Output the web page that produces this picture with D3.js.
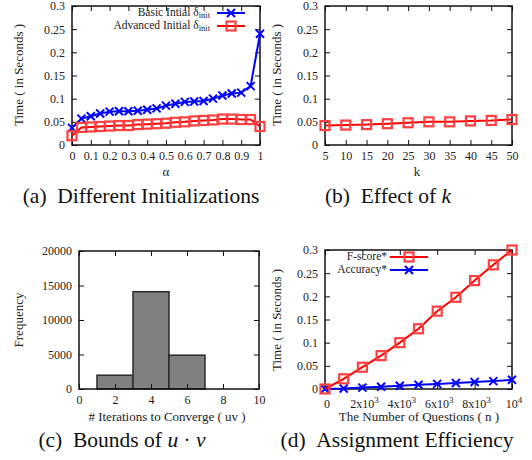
<!DOCTYPE html>
<html>
<head>
<meta charset="utf-8">
<script src="https://cdn.jsdelivr.net/npm/d3@7"></script>
<style>
  body { margin: 0; background: #fff; }
  svg text { font-family: "Liberation Serif", "Times New Roman", Times, "DejaVu Serif", serif !important; fill: #222; }
</style>
</head>
<body>
<div id="cnt"></div>
<script>
// datos (a)
let alphas = [0,0.05,0.1,0.15,0.2,0.25,0.3,0.35,0.4,0.45,0.5,0.55,0.6,0.65,0.7,0.75,0.8,0.85,0.9,0.95,1];
let basicInit = [0.037,0.057,0.062,0.068,0.072,0.073,0.073,0.074,0.076,0.079,0.085,0.089,0.093,0.094,0.095,0.1,0.107,0.111,0.113,0.127,0.24];
let advInit = [0.02,0.038,0.039,0.040,0.041,0.042,0.042,0.044,0.045,0.046,0.047,0.049,0.050,0.052,0.053,0.054,0.056,0.056,0.055,0.055,0.04];
let alphaTicks = [0,0.1,0.2,0.3,0.4,0.5,0.6,0.7,0.8,0.9,1];
let timeTicks = [0,0.05,0.1,0.15,0.2,0.25,0.3];

// datos (b)
let ks = [5,10,15,20,25,30,35,40,45,50];
let kTime = [0.042,0.043,0.044,0.046,0.048,0.050,0.050,0.052,0.053,0.055];

// datos (c) histograma
let binStart = [1,3,5];
let binEnd = [3,5,7];
let freq = [2000,14100,4900];
let iterTicks = [0,2,4,6,8,10];
let freqTicks = [0,5000,10000,15000,20000];

// datos (d)
let nQuestions = [0,1000,2000,3000,4000,5000,6000,7000,8000,9000,10000];
let fscoreTime = [0,0.022,0.047,0.072,0.1,0.13,0.168,0.198,0.234,0.268,0.3];
let accTime = [0,0.001,0.003,0.005,0.007,0.009,0.011,0.013,0.015,0.017,0.02];
let nTicks = [0,2000,4000,6000,8000,10000];
let nLabels = [["0",""],["2x10","3"],["4x10","3"],["6x10","3"],["8x10","3"],["10","4"]];

const azul = "#0000ff";
const rojo = "#ff0000";

let svg = d3.select('#cnt').append("svg")
    .attr('width', 532)
    .attr('height', 460);

//Marco y ticks estilo gnuplot
function marco(x, y, xt, yt, xfmt, yfmt) {
    let g = svg.append("g");
    let [x0, x1] = x.range();
    let [y0, y1] = y.range();
    g.append("g").attr("transform", `translate(0,${y0})`)
        .call(d3.axisBottom(x).tickValues(xt).tickSize(-5).tickPadding(6).tickFormat(xfmt));
    g.append("g").attr("transform", `translate(0,${y1})`)
        .call(d3.axisTop(x).tickValues(xt).tickSize(-5).tickFormat(""));
    g.append("g").attr("transform", `translate(${x0},0)`)
        .call(d3.axisLeft(y).tickValues(yt).tickSize(-5).tickPadding(7).tickFormat(yfmt));
    g.append("g").attr("transform", `translate(${x1},0)`)
        .call(d3.axisRight(y).tickValues(yt).tickSize(-5).tickFormat(""));
    g.selectAll(".domain").remove();
    g.selectAll(".tick line").attr("stroke", "#111").attr("stroke-width", 1);
    g.selectAll(".tick text").attr("font-family", null).style("font-size", "12px").attr("fill", "#222");
    g.append("rect")
        .attr("x", x0).attr("y", y1)
        .attr("width", x1 - x0).attr("height", y0 - y1)
        .attr("fill", "none").attr("stroke", "#111").attr("stroke-width", 1.5);
    return g;
}

function etiqueta(txt, x, y, rot, size) {
    return svg.append("text")
        .attr("transform", `translate(${x},${y}) rotate(${rot || 0})`)
        .attr("text-anchor", "middle")
        .attr("dominant-baseline", "middle")
        .style("font-size", (size || 13) + "px")
        .text(txt);
}

// subtitulo de cada panel (linea base fija)
function titulo(x, y) {
    return svg.append("text")
        .attr("x", x).attr("y", y)
        .attr("text-anchor", "middle")
        .style("font-size", "21.5px")
        .style("fill", "#111");
}

function serie(x, y, xs, ys, color, tipo) {
    let linea = d3.line().x(d => x(d[0])).y(d => y(d[1]));
    let pts = xs.map((v, i) => [v, ys[i]]);
    svg.append("path").attr("d", linea(pts))
        .attr("fill", "none").attr("stroke", color).attr("stroke-width", 2);
    marcador(pts.map(d => [x(d[0]), y(d[1])]), color, tipo);
}

function marcador(pos, color, tipo) {
    if (tipo == "x") {
        svg.append("g").selectAll("path").data(pos).enter().append("path")
            .attr("d", d => `M${d[0]-4},${d[1]-4}L${d[0]+4},${d[1]+4}M${d[0]-4},${d[1]+4}L${d[0]+4},${d[1]-4}`)
            .attr("stroke", color).attr("stroke-width", 2).attr("fill", "none");
    } else {
        svg.append("g").selectAll("rect").data(pos).enter().append("rect")
            .attr("x", d => d[0] - 4.5).attr("y", d => d[1] - 4.5)
            .attr("width", 9).attr("height", 9)
            .attr("fill", "none").attr("stroke", "#ff4040").attr("stroke-width", 2.2);
    }
}

function leyenda(txt, sub, xr, y, color, tipo, x0, x1) {
    let t = svg.append("text").attr("x", xr).attr("y", y + 3)
        .attr("text-anchor", "end").style("font-size", "11.5px");
    t.append("tspan").text(txt);
    if (sub) t.append("tspan").attr("dy", 2).style("font-size", "8.5px").text(sub);
    svg.append("line").attr("x1", x0).attr("x2", x1).attr("y1", y).attr("y2", y)
        .attr("stroke", color).attr("stroke-width", 2);
    marcador([[(x0 + x1) / 2, y]], color, tipo);
}

let fmtT = d => d === 0 ? "0" : d3.format("")(+d.toFixed(2));

// ---------- (a)
let xa = d3.scaleLinear().domain([0, 1]).range([72, 260]);
let ya = d3.scaleLinear().domain([0, 0.3]).range([145, 6]);
marco(xa, ya, alphaTicks, timeTicks, d => fmtT(d), fmtT);
serie(xa, ya, alphas, basicInit, azul, "x");
serie(xa, ya, alphas, advInit, rojo, "s");
leyenda("Basic Intial \u03B4", "init", 210, 13, azul, "x", 217, 245);
leyenda("Advanced Initial \u03B4", "init", 210, 26, rojo, "s", 217, 245);
etiqueta("Time ( in Seconds )", 20, 75, -90);
etiqueta("\u03B1", 166, 173, 0);
titulo(141, 203).text("(a)\u2002Different Initializations");

// ---------- (b)
let xb = d3.scaleLinear().domain([5, 50]).range([325, 512]);
let yb = d3.scaleLinear().domain([0, 0.3]).range([145, 6]);
marco(xb, yb, ks, timeTicks, d => d, fmtT);
serie(xb, yb, ks, kTime, rojo, "s");
etiqueta("Time ( in Seconds )", 278, 75, -90);
etiqueta("k", 417, 173, 0);
let capB = titulo(388, 203);
capB.append("tspan").text("(b)\u2002Effect of ");
capB.append("tspan").style("font-style", "italic").text("k");

// ---------- (c)
let xc = d3.scaleLinear().domain([0, 10]).range([79, 259]);
let yc = d3.scaleLinear().domain([0, 20000]).range([389, 251]);
svg.append("g").selectAll("rect").data(freq).enter().append("rect")
    .attr("x", (d, i) => xc(binStart[i]))
    .attr("y", d => yc(d))
    .attr("width", (d, i) => xc(binEnd[i]) - xc(binStart[i]))
    .attr("height", d => yc(0) - yc(d))
    .attr("fill", "#808080").attr("stroke", "#2a2a2a").attr("stroke-width", 1.5);
marco(xc, yc, iterTicks, freqTicks, d => d, d => d);
etiqueta("Frequency", 20, 320, -90);
etiqueta("# Iterations to Converge ( uv )", 167, 418, 0);
let capC = titulo(122, 447);
capC.append("tspan").text("(c)\u2002Bounds of ");
capC.append("tspan").style("font-style", "italic").text("u");
capC.append("tspan").text(" \u00B7 ");
capC.append("tspan").style("font-style", "italic").text("v");

// ---------- (d)
let xd = d3.scaleLinear().domain([0, 10000]).range([325, 512]);
let yd = d3.scaleLinear().domain([0, 0.3]).range([389, 250]);
let gd = marco(xd, yd, nTicks, timeTicks, () => "", fmtT);
gd.append("g").selectAll("text").data(nTicks).enter().append("text")
    .attr("x", d => xd(d) + 2).attr("y", 408)
    .attr("text-anchor", "middle").style("font-size", "12px")
    .each(function (d, i) {
        let t = d3.select(this);
        t.append("tspan").text(nLabels[i][0]);
        if (nLabels[i][1]) t.append("tspan").attr("dy", -5).style("font-size", "9px").text(nLabels[i][1]);
    });
serie(xd, yd, nQuestions, accTime, azul, "x");
serie(xd, yd, nQuestions, fscoreTime, rojo, "s");
leyenda("F-score*", null, 387, 257, rojo, "s", 390, 428);
leyenda("Accuracy*", null, 387, 270, azul, "x", 390, 428);
etiqueta("Time ( in Seconds )", 278, 320, -90);
etiqueta("The Number of Questions ( n )", 419, 418, 0);
titulo(397, 447).text("(d)\u2002Assignment Efficiency");
</script>
</body>
</html>
